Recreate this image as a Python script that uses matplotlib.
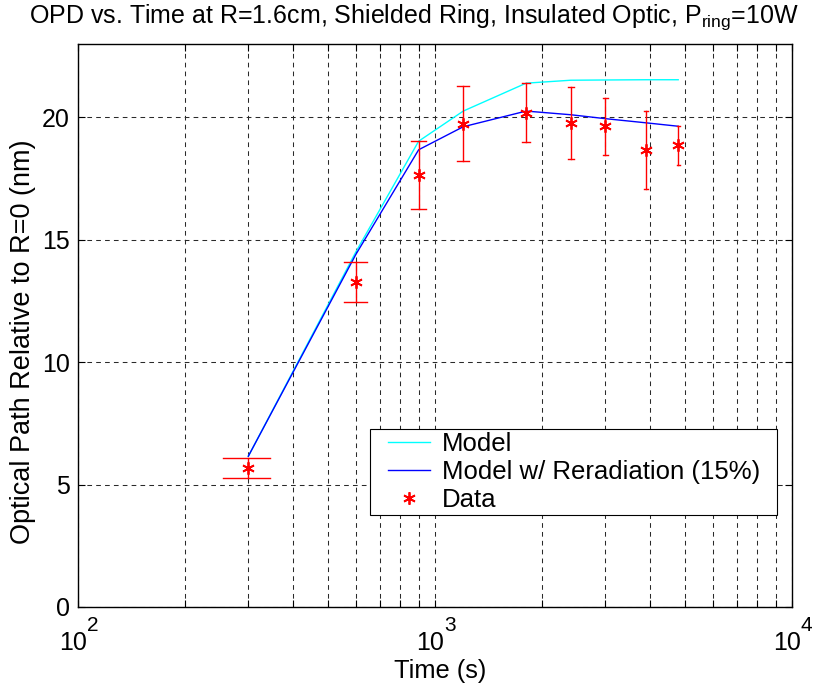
import matplotlib
matplotlib.use("Agg")
import matplotlib.pyplot as plt
from matplotlib.ticker import LogLocator, FixedLocator, NullFormatter
from matplotlib.legend_handler import HandlerLine2D
from matplotlib.patches import Rectangle
import math

plt.rcParams['font.family'] = ['Liberation Sans', 'DejaVu Sans']
plt.rcParams['mathtext.fontset'] = 'custom'
plt.rcParams['mathtext.rm'] = 'Liberation Sans'
plt.rcParams['mathtext.it'] = 'Liberation Sans'

# ---- data ----
t_data = [300, 600, 900, 1200, 1800, 2400, 3000, 3900, 4800]
opd_data = [5.67, 13.29, 17.63, 19.75, 20.19, 19.77, 19.63, 18.68, 18.87]
opd_err = [0.42, 0.82, 1.39, 1.52, 1.21, 1.48, 1.18, 1.60, 0.80]

t_model = [300, 600, 900, 1200, 1800, 2400, 3000, 3900, 4800]
model = [6.16, 14.50, 19.03, 20.26, 21.40, 21.52, 21.53, 21.54, 21.54]
model_rerad = [6.16, 14.40, 18.68, 19.62, 20.26, 20.11, 19.95, 19.78, 19.64]

y_ticks = [0, 5, 10, 15, 20]
x_decades = [100, 1000, 10000]

PX = 0.72  # points per pixel at dpi 100

fig = plt.figure(figsize=(8.2, 6.9), dpi=100)
ax = fig.add_axes([78/820, 1-607/690, (792-78)/820, (607-44)/690])

ax.set_xscale('log')
ax.set_xlim(100, 10000)
ax.set_ylim(0, 23)

grid_kw = dict(color='#2a2a2a', linewidth=0.75, linestyle=(0, (4.5, 4.0)))
ax.grid(True, which='both', axis='x', **grid_kw)
ax.grid(True, which='major', axis='y', **grid_kw)
ax.set_axisbelow(True)

ax.plot(t_model, model, color='#00FFFF', lw=1.0, label='Model', zorder=3)
ax.plot(t_model, model_rerad, color='#0000FF', lw=1.0,
        label='Model w/ Reradiation (15%)', zorder=3)

# error bars (MATLAB-style caps, width = range/100 in data units)
tee = (max(t_data) - min(t_data)) / 100.0
for t, v, e in zip(t_data, opd_data, opd_err):
    ax.plot([t, t], [v - e, v + e], color='#FF0000', lw=1.0, zorder=4)
    ax.plot([t - tee, t + tee], [v + e, v + e], color='#FF0000', lw=1.0, zorder=4)
    ax.plot([t - tee, t + tee], [v - e, v - e], color='#FF0000', lw=1.0, zorder=4)

ax.plot(t_data, opd_data, linestyle='none', marker=(6, 2, 0), markersize=9,
        markeredgewidth=1.3, color='#FF0000', label='Data', zorder=5)

ax.yaxis.set_major_locator(FixedLocator(y_ticks))
ax.xaxis.set_major_locator(FixedLocator(x_decades))
ax.xaxis.set_minor_locator(LogLocator(base=10, subs=range(2, 10), numticks=10))
ax.xaxis.set_minor_formatter(NullFormatter())
ax.xaxis.set_major_formatter(NullFormatter())

ax.tick_params(axis='both', which='both', direction='in', top=True, right=True,
               labelsize=18, width=0.8, length=5)
ax.tick_params(axis='y', which='major', pad=6)

for s in ax.spines.values():
    s.set_linewidth(1.0)
    s.set_color('black')

# MATLAB-style decade labels: "10" with a raised exponent
for xd in x_decades:
    ex = int(round(math.log10(xd)))
    ax.annotate('10', xy=(xd, 0), xycoords=('data', 'axes fraction'),
                xytext=(-5 * PX, -43 * PX), textcoords='offset points',
                ha='center', va='baseline', fontsize=18, annotation_clip=False)
    ax.annotate(str(ex), xy=(xd, 0), xycoords=('data', 'axes fraction'),
                xytext=(9 * PX, -24 * PX), textcoords='offset points',
                ha='left', va='baseline', fontsize=15, annotation_clip=False)

ax.set_xlabel('Time (s)', fontsize=18.3)
ax.xaxis.set_label_coords((440 - 78) / 714, -(678 - 607) / 563)
ax.xaxis.label.set_va('baseline')
ax.set_ylabel('Optical Path Relative to R=0 (nm)', fontsize=19.5)
ax.yaxis.set_label_coords((36 - 78) / 714, (607 - 342) / 563)
ax.set_title(r'OPD vs. Time at R=1.6cm, Shielded Ring, Insulated Optic, $\mathregular{P_{ring}}$=10W',
             fontsize=18, pad=15, x=(414 - 78) / 714)

FSL = 18.5
leg = ax.legend(loc='lower right', bbox_to_anchor=((763 - 78) / 714, (607 - 515) / 563),
                borderaxespad=0, fontsize=FSL, frameon=False,
                handlelength=2.2, labelspacing=0.15, borderpad=0.12,
                handletextpad=0.45,
                handler_map={plt.Line2D: HandlerLine2D(xpad=0.55)})
leg.set_zorder(6)

fig.canvas.draw()
bb = leg.get_window_extent(fig.canvas.get_renderer())
inv = ax.transAxes.inverted()
(x0, y0) = inv.transform((bb.x0, bb.y0))
(x1, y1) = inv.transform((bb.x1 + 14, bb.y1))
frame = Rectangle((x0, y0), x1 - x0, y1 - y0, transform=ax.transAxes,
                  facecolor='white', edgecolor='black', lw=0.8, zorder=5.5)
ax.add_patch(frame)

fig.savefig('out.png', dpi=100)
